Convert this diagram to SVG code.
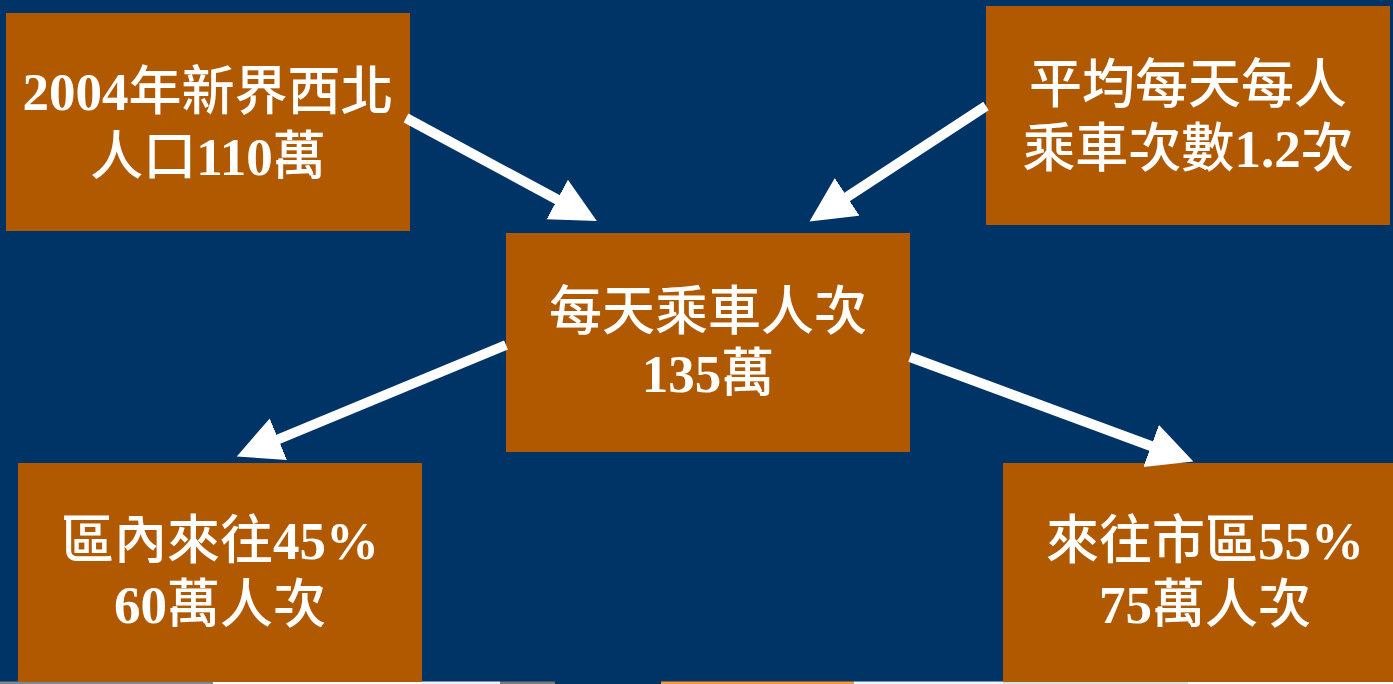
<svg xmlns="http://www.w3.org/2000/svg" width="1393" height="684" viewBox="0 0 1393 684">
<defs>
<style>
.bg{fill:#003366}
.box{fill:#b15900}
.t{font-family:"Noto Sans CJK TC","Noto Sans CJK SC",sans-serif;font-size:53px;font-weight:500;fill:#ffffff;text-anchor:middle}
.n{font-family:"Liberation Serif","Times New Roman",serif;font-weight:bold}
.c{stroke:#ffffff;stroke-width:10;fill:none}
</style>
<marker id="ah" markerUnits="userSpaceOnUse" markerWidth="48" markerHeight="46" refX="2" refY="22.5" orient="auto" viewBox="0 0 48 46">
<path d="M0,0 L45,22.5 L0,45 Z" fill="#ffffff"/>
</marker>
</defs>
<rect class="bg" x="0" y="0" width="1393" height="684"/>
<g id="strip">
<rect x="0" y="681.5" width="213" height="2.5" fill="#7d8893"/>
<rect x="213" y="681.5" width="209" height="2.5" fill="#fbfbfb"/>
<rect x="422" y="681.5" width="78" height="2.5" fill="#eef3f6"/>
<rect x="500" y="681.5" width="55" height="2.5" fill="#7a7a78"/>
<rect x="661" y="681.5" width="193" height="2.5" fill="#f59a3a"/>
<rect x="854" y="681.5" width="149" height="2.5" fill="#eef6f8"/>
<rect x="1003" y="681.5" width="185" height="2.5" fill="#d6e4ea"/>
<rect x="1188" y="681.5" width="205" height="2.5" fill="#fbfbfb"/>
</g>
<g id="n1">
<rect class="box" x="6" y="13" width="404" height="218"/>
<text class="t"><tspan x="208" y="110"><tspan class="n">2004</tspan>年新界西北</tspan><tspan x="208" y="175">人口<tspan class="n">110</tspan>萬</tspan></text>
</g>
<g id="n2">
<rect class="box" x="986" y="6" width="404" height="219"/>
<text class="t"><tspan x="1188" y="103">平均每天每人</tspan><tspan x="1188" y="167">乘車次數<tspan class="n">1.2</tspan>次</tspan></text>
</g>
<g id="n3">
<rect class="box" x="506" y="233" width="404" height="219"/>
<text class="t"><tspan x="708" y="330">每天乘車人次</tspan><tspan x="708" y="392"><tspan class="n">135</tspan>萬</tspan></text>
</g>
<g id="n4">
<rect class="box" x="18" y="463" width="404" height="219"/>
<text class="t"><tspan x="220" y="559">區內來往<tspan class="n">45%</tspan></tspan><tspan x="220" y="623"><tspan class="n">60</tspan>萬人次</tspan></text>
</g>
<g id="n5">
<rect class="box" x="1003" y="463" width="404" height="219"/>
<text class="t"><tspan x="1205" y="559">來往市區<tspan class="n">55%</tspan></tspan><tspan x="1205" y="623"><tspan class="n">75</tspan>萬人次</tspan></text>
</g>
<g id="connectors">
<line class="c" x1="406" y1="118" x2="559" y2="200.5" marker-end="url(#ah)"/>
<line class="c" x1="986" y1="106" x2="845.5" y2="198" marker-end="url(#ah)"/>
<line class="c" x1="506" y1="345" x2="276.5" y2="440" marker-end="url(#ah)"/>
<line class="c" x1="910" y1="357" x2="1153" y2="446.7" marker-end="url(#ah)"/>
</g>
</svg>
